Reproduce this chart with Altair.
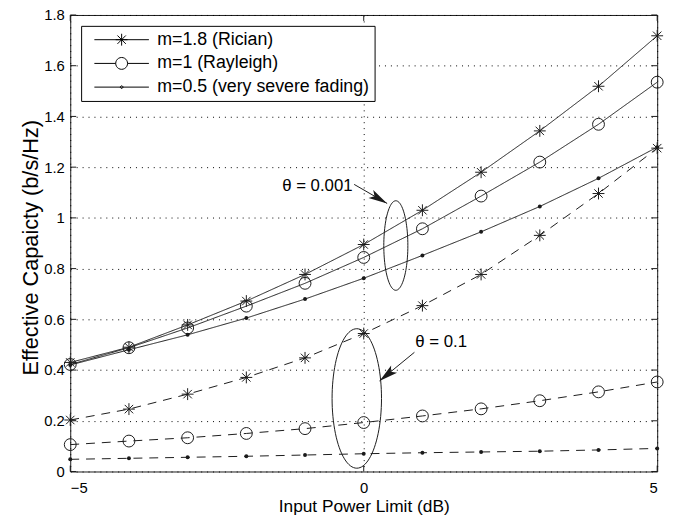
import altair as alt
import numpy as np
import pandas as pd

# ---------------- data ----------------
x_db = [-5, -4, -3, -2, -1, 0, 1, 2, 3, 4, 5]
m_labels = ["m=1.8 (Rician)", "m=1 (Rayleigh)", "m=0.5 (very severe fading)"]
theta_keys = ["0.001", "0.1"]

# theta = 0.001 (solid)
cap_m18_t1 = [0.430, 0.490, 0.578, 0.672, 0.777, 0.895, 1.030, 1.180, 1.343, 1.519, 1.718]
cap_m10_t1 = [0.422, 0.488, 0.566, 0.652, 0.742, 0.844, 0.957, 1.086, 1.220, 1.369, 1.535]
cap_m05_t1 = [0.420, 0.480, 0.539, 0.605, 0.680, 0.762, 0.852, 0.945, 1.045, 1.156, 1.279]
# theta = 0.1 (dashed)
cap_m18_t2 = [0.203, 0.246, 0.305, 0.371, 0.448, 0.544, 0.654, 0.777, 0.931, 1.096, 1.275]
cap_m10_t2 = [0.106, 0.120, 0.133, 0.150, 0.169, 0.193, 0.219, 0.247, 0.279, 0.314, 0.353]
cap_m05_t2 = [0.048, 0.052, 0.056, 0.060, 0.065, 0.070, 0.074, 0.077, 0.080, 0.085, 0.091]

y_tick_values = [0, 0.2, 0.4, 0.6, 0.8, 1.0, 1.2, 1.4, 1.6, 1.8]
x_tick_values = [-5, 0, 5]

# annotations
note_text = ["θ = 0.001", "θ = 0.1"]
note_x = [-0.79, 1.32]
note_y = [1.126, 0.509]
arrow_start_x = [-0.163, 0.864]
arrow_start_y = [1.132, 0.470]
arrow_tip_x = [0.399, 0.269]
arrow_tip_y = [1.057, 0.357]
arrow_angle = [30, 141]
ell_cx = [0.547, -0.118]
ell_cy = [0.891, 0.288]
ell_rx = [0.205, 0.421]
ell_ry = [0.1765, 0.275]

# ---------------- tables ----------------
series = [
    (m_labels[0], theta_keys[0], cap_m18_t1),
    (m_labels[1], theta_keys[0], cap_m10_t1),
    (m_labels[2], theta_keys[0], cap_m05_t1),
    (m_labels[0], theta_keys[1], cap_m18_t2),
    (m_labels[1], theta_keys[1], cap_m10_t2),
    (m_labels[2], theta_keys[1], cap_m05_t2),
]
rows = []
for m, th, vals in series:
    for xv, yv in zip(x_db, vals):
        rows.append({"x": xv, "y": yv, "m": m, "theta": th, "series": m + "|" + th})
df = pd.DataFrame(rows)

ell_rows = []
t = np.linspace(0, 2 * np.pi, 97)
for i in range(2):
    for k, tt in enumerate(t):
        ell_rows.append({"x": ell_cx[i] + ell_rx[i] * np.cos(tt),
                         "y": ell_cy[i] + ell_ry[i] * np.sin(tt),
                         "k": k, "id": i})
ell_df = pd.DataFrame(ell_rows)

arrow_df = pd.DataFrame(
    [{"x": arrow_start_x[i], "y": arrow_start_y[i], "id": i, "k": 0} for i in range(2)]
    + [{"x": arrow_tip_x[i], "y": arrow_tip_y[i], "id": i, "k": 1} for i in range(2)]
)
head_df = pd.DataFrame({"x": arrow_tip_x, "y": arrow_tip_y, "ang": arrow_angle})
note_df = pd.DataFrame({"x": note_x, "y": note_y, "label": note_text})
ytick_df = pd.DataFrame({"y": y_tick_values})
xtick_df = pd.DataFrame({"x": x_tick_values})

# ---------------- styles ----------------
FONT = "Liberation Sans"
INK = "#1a1a1a"
W, H = 594, 462

STAR = "M-1,0L1,0M0,-1L0,1M-0.71,-0.71L0.71,0.71M-0.71,0.71L0.71,-0.71"
HEAD = "M0,0L-2,-0.5L-1.55,0L-2,0.5Z"


def poly(r, n=24):
    a = np.linspace(0, 2 * np.pi, n + 1)
    pts = ["%.3f,%.3f" % (r * np.cos(v), r * np.sin(v)) for v in a]
    return "M" + "L".join(pts) + "Z"


HL = 4.6
LEG_STAR = "M-%.2f,0L%.2f,0" % (HL, HL) + STAR
LEG_CIRC = "M-%.2f,0L-1,0M1,0L%.2f,0" % (HL, HL) + poly(1.0)
LEG_DOT = "M-%.2f,0L%.2f,0" % (HL, HL) + poly(0.22, 12)

xs = alt.Scale(domain=[-5, 5], nice=False, zero=False)
ys = alt.Scale(domain=[0, 1.8], nice=False, zero=False)

grid_kw = dict(grid=True, gridDash=[1, 5], gridColor="black", gridWidth=1,
               ticks=False, domain=False, labelFont=FONT, labelFontSize=15,
               labelColor="black", titleFont=FONT,
               titleFontWeight="normal", titleColor="black")

lines = alt.Chart(df).mark_line(color=INK, strokeWidth=1).encode(
    x=alt.X("x:Q", scale=xs,
            axis=alt.Axis(values=x_tick_values, format="~d", title="Input Power Limit (dB)",
                          labelPadding=9, titlePadding=2, titleFontSize=17.5, **grid_kw)),
    y=alt.Y("y:Q", scale=ys,
            axis=alt.Axis(values=y_tick_values, format=".1~f",
                          title="Effective Capaicty (b/s/Hz)", labelPadding=6,
                          titleFontSize=22,
                          titleX=-40, titleY=H / 2 + 4, titleAngle=-90,
                          titleBaseline="middle", titleAlign="center", **grid_kw)),
    detail="series:N",
    strokeDash=alt.StrokeDash("theta:N", scale=alt.Scale(domain=theta_keys,
                                                         range=[[1, 0], [9, 7]]),
                              legend=None),
)

stars = alt.Chart(df).transform_filter(alt.datum.m == m_labels[0]).mark_point(
    shape=STAR, size=144, filled=False, color=INK, strokeWidth=1, opacity=1
).encode(x="x:Q", y="y:Q")

circles = alt.Chart(df).transform_filter(alt.datum.m == m_labels[1]).mark_point(
    shape="circle", size=144, filled=False, color=INK, strokeWidth=1, opacity=1
).encode(x="x:Q", y="y:Q")

dots = alt.Chart(df).transform_filter(alt.datum.m == m_labels[2]).mark_point(
    shape="circle", size=16, filled=True, color=INK, opacity=1
).encode(x="x:Q", y="y:Q")

ticks_l = alt.Chart(ytick_df).mark_rule(color=INK, strokeWidth=1).encode(
    y="y:Q", x=alt.value(0), x2=alt.value(6))
ticks_r = alt.Chart(ytick_df).mark_rule(color=INK, strokeWidth=1).encode(
    y="y:Q", x=alt.value(W - 6), x2=alt.value(W))
ticks_b = alt.Chart(xtick_df).mark_rule(color=INK, strokeWidth=1).encode(
    x="x:Q", y=alt.value(H - 6), y2=alt.value(H))
ticks_t = alt.Chart(xtick_df).mark_rule(color=INK, strokeWidth=1).encode(
    x="x:Q", y=alt.value(0), y2=alt.value(6))

ellipses = alt.Chart(ell_df).mark_line(color=INK, strokeWidth=1).encode(
    x="x:Q", y="y:Q", detail="id:N", order="k:Q")

arrows = alt.Chart(arrow_df).mark_line(color=INK, strokeWidth=1).encode(
    x="x:Q", y="y:Q", detail="id:N", order="k:Q")

heads = alt.Chart(head_df).mark_point(
    shape=HEAD, size=361, filled=True, color=INK, opacity=1, strokeWidth=0.5
).encode(x="x:Q", y="y:Q", angle=alt.Angle("ang:Q", scale=None))

notes = alt.Chart(note_df).mark_text(
    font=FONT, fontSize=17, color="black", align="center", baseline="middle"
).encode(x="x:Q", y="y:Q", text="label:N")

legend_layer = alt.Chart(df).transform_filter("false").mark_point(
    filled=False, color="black", strokeWidth=1, opacity=1
).encode(
    x="x:Q", y="y:Q",
    shape=alt.Shape("m:N", scale=alt.Scale(domain=m_labels,
                                           range=[LEG_STAR, LEG_CIRC, LEG_DOT]),
                    legend=alt.Legend(title=None, orient="none", legendX=11, legendY=11,
                                      strokeColor="black", fillColor="white",
                                      padding=5, symbolSize=144, symbolStrokeWidth=1,
                                      symbolStrokeColor="black",
                                      symbolOffset=27, labelOffset=27, rowPadding=6,
                                      labelFont=FONT, labelFontSize=18,
                                      labelColor="black", labelLimit=400)),
)

chart = alt.layer(
    lines, ticks_l, ticks_r, ticks_b, ticks_t, stars, circles, dots,
    ellipses, arrows, heads, notes, legend_layer
).properties(
    width=W, height=H,
    autosize=alt.AutoSizeParams(type="none"),
    padding={"left": 63, "top": 4, "right": 16, "bottom": 45},
    background="white",
).configure_view(stroke=INK, strokeWidth=1)

chart.save("out.html", embed_options={"renderer": "svg", "actions": False})
